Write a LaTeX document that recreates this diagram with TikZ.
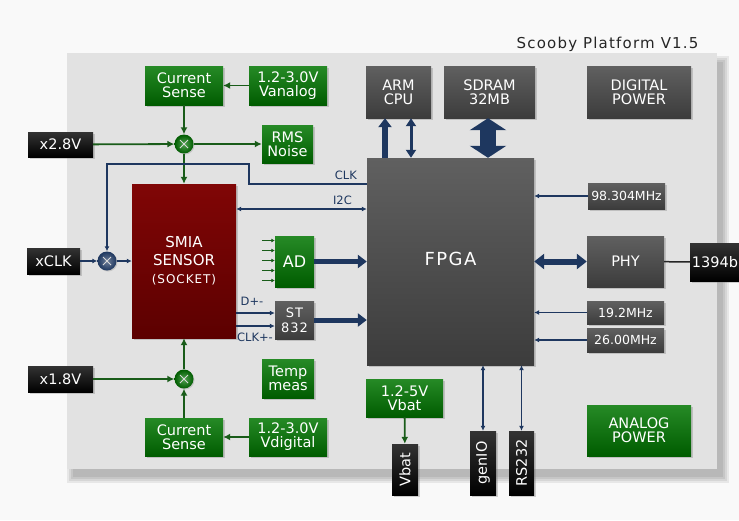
\documentclass[tikz,border=0pt]{standalone}
\usepackage{fontspec}
\setmainfont{DejaVu Sans}
\newfontfamily\spacedfont[LetterSpace=8]{DejaVu Sans}
\usetikzlibrary{arrows.meta,shadows}
\definecolor{pagegray}{RGB}{249,249,249}
\definecolor{panelgray}{RGB}{226,226,226}
\definecolor{supplytop}{RGB}{38,138,38}
\definecolor{supplybot}{RGB}{0,92,0}
\definecolor{chiptop}{RGB}{96,96,96}
\definecolor{chipbot}{RGB}{60,60,60}
\definecolor{sensortop}{RGB}{128,6,6}
\definecolor{sensorbot}{RGB}{92,0,0}
\definecolor{wiregreen}{RGB}{25,92,25}
\definecolor{wireblue}{RGB}{30,55,95}
\tikzset{box/.style={align=center,text=white,font=\fontsize{14.5}{14}\selectfont,inner sep=0pt,drop shadow={shadow xshift=1.5pt,shadow yshift=-1.5pt,opacity=.35}},supply/.style={box,top color=supplytop,bottom color=supplybot},chip/.style={box,top color=chiptop,bottom color=chipbot},port/.style={box,top color=black!80,bottom color=black},clock/.style={chip,font=\fontsize{12.5}{12}\selectfont},mix/.style={circle,minimum size=19pt,inner sep=0pt,drop shadow={shadow xshift=1pt,shadow yshift=-1pt,opacity=.3},path picture={\draw[white!85!black,line width=.9pt] ([shift={(-4pt,-4pt)}]path picture bounding box.center) -- ([shift={(4pt,4pt)}]path picture bounding box.center) ([shift={(-4pt,4pt)}]path picture bounding box.center) -- ([shift={(4pt,-4pt)}]path picture bounding box.center);}},tag/.style={text=wireblue,font=\fontsize{11.5}{12}\selectfont,inner sep=0pt},gedge/.style={wiregreen,line width=1.8pt,-{Latex[length=7pt,width=7pt]}},bedge/.style={wireblue,line width=1.1pt,-{Latex[length=5pt,width=5pt]}},bboth/.style={bedge,{Latex[length=5pt,width=5pt]}-{Latex[length=5pt,width=5pt]}},bus/.style={wireblue,line width=5pt,-{Triangle[length=9pt,width=13pt]}}}

\begin{document}
\begin{tikzpicture}[x=1pt,y=-1pt]
\useasboundingbox (0,0) rectangle (739,520);
\fill[pagegray] (0,0) rectangle (739,520);
% panel with soft shadow
\foreach \s in {0,2,4,6}
  \fill[black,opacity=.07] (73-\s,62-\s) rectangle (723+\s,477+\s);
\fill[panelgray] (67,53) rectangle (717,469);
\node[anchor=east,text=black!85,font=\spacedfont\fontsize{15}{15}\selectfont] (title) at (702,44) {Scooby Platform V1.5};

% analog supply and sensor
\node[supply,minimum width=78pt,minimum height=39pt] (csa) at (184,85.5) {Current\\Sense};
\node[supply,minimum width=78pt,minimum height=39pt] (vana) at (288,85.5) {1.2-3.0V\\Vanalog};
\node[port,minimum width=65pt,minimum height=25pt] (x28) at (60.5,144.5) {x2.8V};
\node[mix,inner color=supplytop!80,outer color=supplybot] (mixa) at (184,144) {};
\node[supply,minimum width=51pt,minimum height=38pt] (rms) at (287.5,144) {RMS\\Noise};
\node[box,top color=sensortop,bottom color=sensorbot,minimum width=104pt,minimum height=154pt,font=\fontsize{15}{18}\selectfont] (smia) at (184,261)
{SMIA\\SENSOR\\{\spacedfont\fontsize{12}{18}\selectfont(SOCKET)}};
\node[port,minimum width=53pt,minimum height=26pt] (xclk) at (53.5,261) {xCLK};
\node[mix,inner color=wireblue!65,outer color=wireblue] (mixc) at (107,261) {};
\node[port,minimum width=65pt,minimum height=26pt] (x18) at (60.5,379) {x1.8V};
\node[mix,inner color=supplytop!80,outer color=supplybot] (mixb) at (184,379) {};
\node[supply,minimum width=39pt,minimum height=51pt,font=\fontsize{16}{16}\selectfont] (ad) at (294.5,261.5) {AD};
\node[chip,minimum width=39pt,minimum height=38pt,font=\spacedfont\fontsize{13}{15}\selectfont] (st) at (294.5,320) {ST\\832};
\node[supply,minimum width=52pt,minimum height=39pt] (temp) at (288,378.5) {Temp\\meas};
\node[supply,minimum width=78pt,minimum height=38pt] (csd) at (184,437) {Current\\Sense};
\node[supply,minimum width=78pt,minimum height=38pt] (vdig) at (288,437) {1.2-3.0V\\Vdigital};

% FPGA and its neighbours
\node[chip,minimum width=167pt,minimum height=207pt,font=\spacedfont\fontsize{18}{18}\selectfont] (fpga) at (450.5,261.5) {\raisebox{6pt}{FPGA}};
\node[chip,minimum width=65pt,minimum height=52pt] (arm) at (398.5,92) {ARM\\CPU};
\node[chip,minimum width=91pt,minimum height=52pt] (sdram) at (489.5,92) {SDRAM\\32MB};
\node[chip,minimum width=104pt,minimum height=52pt] (dpow) at (639,92) {DIGITAL\\POWER};
\node[clock,minimum width=77pt,minimum height=26pt] (f98) at (626.5,196) {98.304MHz};
\node[chip,minimum width=77pt,minimum height=51pt] (phy) at (625.5,261.5) {PHY};
\node[port,minimum width=50pt,minimum height=38pt] (fw) at (715,262) {1394b};
\node[clock,minimum width=77pt,minimum height=23pt] (f19) at (625.5,312.5) {19.2MHz};
\node[clock,minimum width=77pt,minimum height=24pt] (f26) at (625.5,340) {26.00MHz};
\node[supply,minimum width=77pt,minimum height=38pt] (vbs) at (404.5,398) {1.2-5V\\Vbat};
\node[port,minimum width=51pt,minimum height=26pt,rotate=90] (vbat) at (405,469.5) {Vbat};
\node[port,minimum width=64pt,minimum height=26pt,rotate=90] (genio) at (483,463) {genIO};
\node[port,minimum width=64pt,minimum height=25pt,rotate=90] (rs) at (521.5,463) {RS232};
\node[supply,minimum width=104pt,minimum height=51pt] (apow) at (639,430.5) {ANALOG\\POWER};

% supply wiring
\draw[gedge] (vana) -- (csa);
\draw[gedge] (csa) -- (mixa);
\draw[gedge] (x28) -- (mixa);
\draw[gedge] (mixa) -- (rms);
\draw[gedge] (mixa) -- (smia);
\draw[gedge] (vdig) -- (csd);
\draw[gedge] (csd) -- (mixb);
\draw[gedge] (x18) -- (mixb);
\draw[gedge] (mixb) -- (smia);
\draw[gedge] (vbs) -- (vbat);
\foreach \d in {21,11,1,-9,-19}
  \draw[wiregreen,line width=1pt,-{Latex[length=3.5pt,width=4pt]}] ([xshift=-13pt,yshift=\d pt]ad.west) -- ([yshift=\d pt]ad.west);

% clock and control
\coordinate (clkin) at (367,184);
\coordinate (clkbend) at (249,164);
\coordinate (i2c) at (300,209);
\coordinate (dpair) at (250,313);
\coordinate (cpair) at (250,326);
\draw[bedge] (xclk) -- (mixc);
\draw[bedge] (mixc) -- (smia);
\draw[bedge] (clkin) -| (clkbend) -| (mixc);
\draw[bboth] (smia.east |- i2c) -- (fpga.west |- i2c);
\draw[bedge,line width=1.8pt] (smia.east |- dpair) -- (st.west |- dpair);
\draw[bedge,line width=1.8pt] (smia.east |- cpair) -- (st.west |- cpair);
\node[tag,anchor=south east] (clktag) at (357,180) {CLK};
\node[tag,anchor=south east] (i2ctag) at (352,205) {I2C};
\node[tag] (dtag) at (252,301) {D+-};
\node[tag] (ctag) at (255,337) {CLK+-};

% buses into the FPGA
\draw[bus] (ad) -- (ad -| fpga.west);
\draw[bus] (st) -- (st -| fpga.west);
\draw[bus,line width=6pt] ([xshift=-13.5pt]arm.south |- fpga.north) -- ([xshift=-13.5pt]arm.south);
\draw[bus,line width=3pt,{Triangle[length=8pt,width=10pt]}-{Triangle[length=8pt,width=10pt]}] ([xshift=12.5pt]arm.south) -- ([xshift=12.5pt]arm.south |- fpga.north);
\draw[wireblue,line width=16pt,{Triangle[length=12pt,width=36pt]}-{Triangle[length=12pt,width=36pt]}] ([xshift=-1.5pt]sdram.south) -- ([xshift=-1.5pt]sdram.south |- fpga.north);
\draw[bus,line width=6pt,{Triangle[length=10pt,width=15pt]}-{Triangle[length=10pt,width=15pt]}] (fpga.east |- phy) -- (phy);
\draw[black!85,line width=1.5pt] (phy) -- (fw);
\draw[bedge] (f98) -- (f98 -| fpga.east);
\draw[bedge] (f19) -- (f19 -| fpga.east);
\draw[bedge] (f26) -- (f26 -| fpga.east);
\draw[bboth,line width=1.5pt] (genio.east) -- (genio.east |- fpga.south);
\draw[bboth,line width=1.5pt] (rs.east) -- (rs.east |- fpga.south);
\end{tikzpicture}
\end{document}
